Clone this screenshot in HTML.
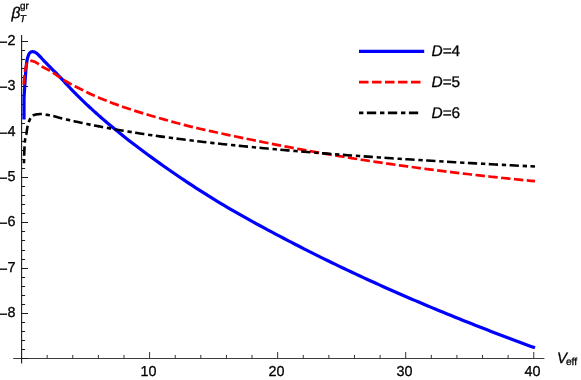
<!DOCTYPE html>
<html><head><meta charset="utf-8"><title>plot</title>
<style>
html,body{margin:0;padding:0;background:#fff;}
body{width:581px;height:380px;overflow:hidden;font-family:"Liberation Sans",sans-serif;}
svg{display:block;}
text{font-family:"Liberation Sans",sans-serif;fill:#000;stroke:#000;stroke-width:0.3px;text-rendering:geometricPrecision;}
.t{filter:blur(0.35px);}
</style></head>
<body>
<svg width="581" height="380" viewBox="0 0 581 380">
<rect width="581" height="380" fill="#fff"/>
<g stroke="#1a1a1a" stroke-width="1" fill="none" shape-rendering="auto">
<line x1="13.2" y1="358.5" x2="544.4" y2="358.5" stroke-width="1.1" stroke="#3c3c3c"/>
<line x1="21.6" y1="35.1" x2="21.6" y2="363.5" stroke-width="1.1"/>
<line x1="21.5" y1="358.5" x2="28.0" y2="358.5"/>
<line x1="21.5" y1="41.50" x2="28.0" y2="41.50"/>
<line x1="21.5" y1="50.50" x2="25.1" y2="50.50"/>
<line x1="21.5" y1="59.50" x2="25.1" y2="59.50"/>
<line x1="21.5" y1="68.50" x2="25.1" y2="68.50"/>
<line x1="21.5" y1="77.50" x2="25.1" y2="77.50"/>
<line x1="21.5" y1="86.50" x2="28.0" y2="86.50"/>
<line x1="21.5" y1="95.50" x2="25.1" y2="95.50"/>
<line x1="21.5" y1="104.50" x2="25.1" y2="104.50"/>
<line x1="21.5" y1="114.50" x2="25.1" y2="114.50"/>
<line x1="21.5" y1="123.50" x2="25.1" y2="123.50"/>
<line x1="21.5" y1="132.50" x2="28.0" y2="132.50"/>
<line x1="21.5" y1="141.50" x2="25.1" y2="141.50"/>
<line x1="21.5" y1="150.50" x2="25.1" y2="150.50"/>
<line x1="21.5" y1="159.50" x2="25.1" y2="159.50"/>
<line x1="21.5" y1="168.50" x2="25.1" y2="168.50"/>
<line x1="21.5" y1="177.50" x2="28.0" y2="177.50"/>
<line x1="21.5" y1="186.50" x2="25.1" y2="186.50"/>
<line x1="21.5" y1="195.50" x2="25.1" y2="195.50"/>
<line x1="21.5" y1="204.50" x2="25.1" y2="204.50"/>
<line x1="21.5" y1="213.50" x2="25.1" y2="213.50"/>
<line x1="21.5" y1="222.50" x2="28.0" y2="222.50"/>
<line x1="21.5" y1="231.50" x2="25.1" y2="231.50"/>
<line x1="21.5" y1="240.50" x2="25.1" y2="240.50"/>
<line x1="21.5" y1="250.50" x2="25.1" y2="250.50"/>
<line x1="21.5" y1="259.50" x2="25.1" y2="259.50"/>
<line x1="21.5" y1="268.50" x2="28.0" y2="268.50"/>
<line x1="21.5" y1="277.50" x2="25.1" y2="277.50"/>
<line x1="21.5" y1="286.50" x2="25.1" y2="286.50"/>
<line x1="21.5" y1="295.50" x2="25.1" y2="295.50"/>
<line x1="21.5" y1="304.50" x2="25.1" y2="304.50"/>
<line x1="21.5" y1="313.50" x2="28.0" y2="313.50"/>
<line x1="21.5" y1="322.50" x2="25.1" y2="322.50"/>
<line x1="21.5" y1="331.50" x2="25.1" y2="331.50"/>
<line x1="21.5" y1="340.50" x2="25.1" y2="340.50"/>
<line x1="21.5" y1="349.50" x2="25.1" y2="349.50"/>
<line x1="47.16" y1="358.5" x2="47.16" y2="354.9" stroke="#333"/>
<line x1="72.77" y1="358.5" x2="72.77" y2="354.9" stroke="#333"/>
<line x1="98.38" y1="358.5" x2="98.38" y2="354.9" stroke="#333"/>
<line x1="123.99" y1="358.5" x2="123.99" y2="354.9" stroke="#333"/>
<line x1="149.60" y1="358.5" x2="149.60" y2="352.0" stroke="#333"/>
<line x1="175.21" y1="358.5" x2="175.21" y2="354.9" stroke="#333"/>
<line x1="200.82" y1="358.5" x2="200.82" y2="354.9" stroke="#333"/>
<line x1="226.43" y1="358.5" x2="226.43" y2="354.9" stroke="#333"/>
<line x1="252.04" y1="358.5" x2="252.04" y2="354.9" stroke="#333"/>
<line x1="277.65" y1="358.5" x2="277.65" y2="352.0" stroke="#333"/>
<line x1="303.26" y1="358.5" x2="303.26" y2="354.9" stroke="#333"/>
<line x1="328.87" y1="358.5" x2="328.87" y2="354.9" stroke="#333"/>
<line x1="354.48" y1="358.5" x2="354.48" y2="354.9" stroke="#333"/>
<line x1="380.09" y1="358.5" x2="380.09" y2="354.9" stroke="#333"/>
<line x1="405.70" y1="358.5" x2="405.70" y2="352.0" stroke="#333"/>
<line x1="431.31" y1="358.5" x2="431.31" y2="354.9" stroke="#333"/>
<line x1="456.92" y1="358.5" x2="456.92" y2="354.9" stroke="#333"/>
<line x1="482.53" y1="358.5" x2="482.53" y2="354.9" stroke="#333"/>
<line x1="508.14" y1="358.5" x2="508.14" y2="354.9" stroke="#333"/>
<line x1="533.75" y1="358.5" x2="533.75" y2="352.0" stroke="#333"/>
</g>
<g fill="none" stroke-linejoin="round">
<path d="M24.00,119.50 L24.00,118.43 L24.00,117.36 L24.00,116.30 L24.00,115.23 L24.00,114.16 L24.00,113.09 L24.00,112.02 L24.00,110.96 L24.00,109.89 L24.00,108.82 L24.00,107.76 L24.00,106.69 L24.00,105.62 L24.00,104.55 L24.00,103.49 L24.00,102.42 L24.00,101.35 L24.00,100.29 L24.01,99.22 L24.03,98.15 L24.07,97.09 L24.12,96.02 L24.18,94.96 L24.25,93.89 L24.32,92.82 L24.39,91.76 L24.46,90.69 L24.52,89.63 L24.58,88.56 L24.65,87.50 L24.72,86.43 L24.79,85.37 L24.86,84.30 L24.93,83.24 L25.00,82.17 L25.08,81.11 L25.15,80.04 L25.23,78.98 L25.31,77.91 L25.38,76.85 L25.46,75.78 L25.53,74.72 L25.61,73.65 L25.69,72.59 L25.77,71.52 L25.85,70.46 L25.94,69.40 L26.04,68.33 L26.14,67.27 L26.25,66.21 L26.36,65.14 L26.47,64.08 L26.60,63.01 L26.75,61.96 L26.91,60.90 L27.09,59.86 L27.32,58.82 L27.61,57.79 L27.95,56.77 L28.31,55.77 L28.70,54.72 L29.15,53.70 L29.71,52.89 L30.53,52.24 L31.57,51.75 L32.61,51.67 L33.68,51.83 L34.70,52.11 L35.66,52.61 L36.55,53.20 L37.37,53.85 L38.14,54.58 L38.89,55.36 L39.62,56.16 L40.36,56.95 L41.10,57.72 L41.83,58.49 L42.56,59.28 L43.28,60.06 L44.00,60.85 L44.73,61.63 L45.47,62.40 L46.21,63.17 L46.95,63.94 L47.69,64.71 L48.43,65.47 L49.18,66.23 L49.93,66.99 L50.69,67.75 L51.44,68.50 L52.20,69.26 L52.96,70.01 L53.71,70.76 L54.47,71.51 L55.24,72.25 L56.00,73.00 L56.76,73.75 L57.51,74.51 L58.25,75.27 L58.99,76.04 L59.73,76.82 L60.46,77.59 L61.19,78.37 L61.92,79.15 L62.64,79.94 L63.37,80.72 L64.09,81.51 L64.81,82.30 L65.53,83.09 L66.25,83.87 L66.97,84.66 L67.70,85.44 L68.42,86.23 L69.15,87.00 L69.88,87.78 L70.62,88.55 L71.36,89.32 L72.10,90.09 L72.84,90.86 L73.58,91.63 L74.33,92.39 L75.07,93.16 L75.82,93.92 L76.57,94.68 L77.32,95.44 L78.08,96.19 L78.83,96.95 L79.59,97.70 L80.35,98.44 L81.12,99.19 L81.88,99.93 L82.65,100.67 L83.43,101.40 L84.20,102.14 L84.98,102.87 L85.76,103.60 L86.54,104.33 L87.31,105.06 L88.09,105.79 L88.87,106.52 L89.66,107.24 L90.44,107.97 L91.23,108.69 L92.01,109.41 L92.80,110.13 L93.59,110.85 L94.38,111.57 L95.18,112.28 L95.97,112.99 L96.77,113.70 L97.56,114.41 L98.36,115.12 L99.16,115.83 L99.96,116.53 L100.77,117.24 L101.57,117.94 L102.38,118.64 L103.18,119.34 L103.99,120.04 L107.98,123.44 L111.97,126.79 L115.96,130.08 L119.95,133.32 L123.94,136.50 L127.94,139.64 L131.93,142.74 L135.92,145.79 L139.91,148.79 L143.90,151.76 L147.89,154.69 L151.88,157.60 L155.87,160.50 L159.86,163.36 L163.85,166.19 L167.84,168.99 L171.83,171.76 L175.83,174.50 L179.82,177.21 L183.81,179.89 L187.80,182.55 L191.79,185.19 L195.78,187.80 L199.77,190.38 L203.76,192.93 L207.75,195.44 L211.74,197.90 L215.73,200.34 L219.72,202.76 L223.72,205.16 L227.71,207.53 L231.70,209.89 L235.69,212.19 L239.68,214.46 L243.67,216.70 L247.66,218.91 L251.65,221.11 L255.64,223.30 L259.63,225.48 L263.62,227.64 L267.61,229.79 L271.61,231.93 L275.60,234.04 L279.59,236.15 L283.58,238.24 L287.57,240.31 L291.56,242.38 L295.55,244.46 L299.54,246.52 L303.53,248.56 L307.52,250.59 L311.51,252.60 L315.50,254.60 L319.50,256.59 L323.49,258.57 L327.48,260.53 L331.47,262.47 L335.46,264.41 L339.45,266.33 L343.44,268.24 L347.43,270.13 L351.42,272.02 L355.41,273.89 L359.40,275.75 L363.39,277.60 L367.39,279.43 L371.38,281.26 L375.37,283.07 L379.36,284.88 L383.35,286.67 L387.34,288.45 L391.33,290.22 L395.32,291.98 L399.31,293.73 L403.30,295.47 L407.29,297.20 L411.28,298.92 L415.28,300.63 L419.27,302.33 L423.26,304.02 L427.25,305.70 L431.24,307.37 L435.23,309.03 L439.22,310.68 L443.21,312.33 L447.20,313.96 L451.19,315.59 L455.18,317.21 L459.17,318.82 L463.17,320.42 L467.16,322.01 L471.15,323.59 L475.14,325.17 L479.13,326.73 L483.12,328.29 L487.11,329.84 L491.10,331.39 L495.09,332.92 L499.08,334.45 L503.07,335.97 L507.06,337.48 L511.06,338.99 L515.05,340.48 L519.04,341.97 L523.03,343.45 L527.02,344.93 L531.01,346.40 L535.00,347.86" stroke="#0000ff" stroke-width="3.2" stroke-linecap="butt"/>
<path d="M23.70,85.30 L23.73,84.74 L23.77,84.18 L23.80,83.62 L23.84,83.06 L23.88,82.49 L23.92,81.93 L23.96,81.37 L24.01,80.81 L24.05,80.25 L24.10,79.69 L24.15,79.13 L24.20,78.57 L24.25,78.01 L24.30,77.45 L24.35,76.90 L24.41,76.34 L24.46,75.78 L24.52,75.22 L24.58,74.66 L24.64,74.10 L24.70,73.54 L24.77,72.98 L24.84,72.43 L24.92,71.87 L25.00,71.31 L25.08,70.76 L25.17,70.20 L25.26,69.64 L25.36,69.09 L25.47,68.54 L25.58,67.99 L25.70,67.44 L25.82,66.89 L25.96,66.34 L26.10,65.78 L26.25,65.22 L26.42,64.68 L26.61,64.15 L26.83,63.64 L27.07,63.17 L27.39,62.69 L27.78,62.23 L28.21,61.84 L28.65,61.58 L29.14,61.38 L29.68,61.21 L30.25,61.06 L30.83,60.96 L31.40,60.90 L31.95,60.92 L32.49,61.01 L33.03,61.17 L33.57,61.38 L34.10,61.61 L34.63,61.84 L35.14,62.06 L35.64,62.30 L36.14,62.56 L36.63,62.84 L37.11,63.13 L37.59,63.44 L38.07,63.75 L38.54,64.06 L39.00,64.37 L39.45,64.71 L39.89,65.06 L40.34,65.41 L40.79,65.75 L41.25,66.06 L41.72,66.36 L42.19,66.65 L42.68,66.93 L43.17,67.21 L43.66,67.48 L44.16,67.74 L44.66,68.00 L45.16,68.26 L45.66,68.51 L46.17,68.76 L46.67,69.02 L47.17,69.27 L47.68,69.53 L48.17,69.79 L48.67,70.05 L49.17,70.32 L49.65,70.60 L50.14,70.88 L50.62,71.17 L51.10,71.46 L51.58,71.76 L52.05,72.06 L52.52,72.36 L53.00,72.67 L53.47,72.98 L53.94,73.29 L54.40,73.60 L54.87,73.91 L55.34,74.23 L55.80,74.55 L56.26,74.87 L56.71,75.20 L57.17,75.53 L57.62,75.87 L58.08,76.20 L58.53,76.53 L58.99,76.86 L59.44,77.18 L59.91,77.50 L60.37,77.82 L60.84,78.12 L61.31,78.43 L61.78,78.73 L62.26,79.03 L62.73,79.33 L63.21,79.63 L63.69,79.93 L64.17,80.22 L64.65,80.52 L65.13,80.81 L65.61,81.10 L66.09,81.38 L66.58,81.67 L67.06,81.95 L67.55,82.24 L68.04,82.52 L68.52,82.80 L69.01,83.08 L69.50,83.36 L69.99,83.63 L70.48,83.91 L70.97,84.18 L71.47,84.44 L71.96,84.71 L72.46,84.97 L72.96,85.23 L73.45,85.49 L73.95,85.75 L74.45,86.01 L74.95,86.26 L75.45,86.52 L75.96,86.77 L76.46,87.02 L76.96,87.28 L77.46,87.53 L77.97,87.78 L78.47,88.03 L78.97,88.28 L79.48,88.53 L79.98,88.77 L80.49,89.02 L80.99,89.27 L81.49,89.52 L81.99,89.77 L82.50,90.03 L83.00,90.28 L83.50,90.54 L84.00,90.79 L84.50,91.05 L85.00,91.30 L88.00,92.80 L91.00,94.22 L94.00,95.57 L97.00,96.87 L100.00,98.14 L103.99,99.78 L107.98,101.37 L111.97,102.91 L115.96,104.39 L119.95,105.81 L123.94,107.20 L127.94,108.55 L131.93,109.86 L135.92,111.13 L139.91,112.38 L143.90,113.60 L147.89,114.80 L151.88,115.98 L155.87,117.13 L159.86,118.27 L163.85,119.40 L167.84,120.52 L171.83,121.62 L175.83,122.71 L179.82,123.77 L183.81,124.82 L187.80,125.84 L191.79,126.82 L195.78,127.78 L199.77,128.71 L203.76,129.62 L207.75,130.51 L211.74,131.39 L215.73,132.26 L219.72,133.12 L223.72,133.98 L227.71,134.84 L231.70,135.68 L235.69,136.51 L239.68,137.33 L243.67,138.15 L247.66,138.95 L251.65,139.77 L255.64,140.59 L259.63,141.41 L263.62,142.22 L267.61,143.03 L271.61,143.82 L275.60,144.61 L279.59,145.39 L283.58,146.15 L287.57,146.92 L291.56,147.67 L295.55,148.42 L299.54,149.16 L303.53,149.89 L307.52,150.61 L311.51,151.33 L315.50,152.03 L319.50,152.73 L323.49,153.43 L327.48,154.11 L331.47,154.79 L335.46,155.47 L339.45,156.13 L343.44,156.79 L347.43,157.44 L351.42,158.09 L355.41,158.72 L359.40,159.35 L363.39,159.98 L367.39,160.60 L371.38,161.21 L375.37,161.81 L379.36,162.41 L383.35,163.00 L387.34,163.59 L391.33,164.16 L395.32,164.74 L399.31,165.30 L403.30,165.86 L407.29,166.42 L411.28,166.97 L415.28,167.51 L419.27,168.04 L423.26,168.57 L427.25,169.10 L431.24,169.62 L435.23,170.13 L439.22,170.64 L443.21,171.14 L447.20,171.63 L451.19,172.12 L455.18,172.61 L459.17,173.09 L463.17,173.56 L467.16,174.03 L471.15,174.49 L475.14,174.95 L479.13,175.40 L483.12,175.85 L487.11,176.29 L491.10,176.73 L495.09,177.16 L499.08,177.59 L503.07,178.01 L507.06,178.42 L511.06,178.84 L515.05,179.24 L519.04,179.64 L523.03,180.04 L527.02,180.43 L531.01,180.82 L535.00,181.20" stroke="#ff0000" stroke-width="2.7" stroke-dasharray="9.42 3.46" stroke-dashoffset="-0.7" stroke-linecap="butt"/>
<path d="M24.00,163.20 L24.01,162.62 L24.02,162.04 L24.02,161.46 L24.04,160.87 L24.05,160.29 L24.06,159.71 L24.07,159.13 L24.09,158.55 L24.10,157.97 L24.12,157.39 L24.14,156.80 L24.15,156.22 L24.17,155.64 L24.19,155.06 L24.21,154.48 L24.23,153.90 L24.25,153.32 L24.27,152.73 L24.29,152.15 L24.31,151.57 L24.33,150.99 L24.36,150.40 L24.38,149.82 L24.41,149.24 L24.44,148.66 L24.47,148.07 L24.50,147.49 L24.53,146.91 L24.56,146.33 L24.60,145.75 L24.63,145.17 L24.67,144.59 L24.71,144.01 L24.75,143.43 L24.80,142.85 L24.85,142.27 L24.89,141.69 L24.94,141.12 L25.00,140.54 L25.05,139.97 L25.12,139.39 L25.22,138.82 L25.32,138.25 L25.45,137.68 L25.58,137.12 L25.72,136.55 L25.86,135.98 L25.99,135.41 L26.13,134.84 L26.25,134.27 L26.35,133.70 L26.46,133.13 L26.55,132.55 L26.64,131.98 L26.73,131.40 L26.81,130.82 L26.90,130.25 L26.98,129.67 L27.07,129.09 L27.16,128.52 L27.26,127.94 L27.36,127.37 L27.47,126.80 L27.58,126.24 L27.71,125.67 L27.84,125.11 L27.99,124.55 L28.15,123.98 L28.31,123.42 L28.49,122.86 L28.68,122.31 L28.88,121.76 L29.09,121.21 L29.31,120.68 L29.53,120.15 L29.77,119.63 L30.04,119.11 L30.33,118.59 L30.65,118.09 L30.98,117.61 L31.33,117.16 L31.71,116.71 L32.12,116.27 L32.56,115.85 L33.02,115.50 L33.50,115.26 L34.02,115.06 L34.56,114.88 L35.13,114.73 L35.71,114.59 L36.30,114.48 L36.89,114.38 L37.47,114.30 L38.05,114.24 L38.63,114.18 L39.21,114.12 L39.79,114.07 L40.37,114.03 L40.95,114.01 L41.53,114.00 L42.11,114.02 L42.69,114.07 L43.26,114.14 L43.84,114.23 L44.41,114.34 L44.99,114.45 L45.56,114.57 L46.13,114.68 L46.71,114.78 L47.28,114.88 L47.86,114.98 L48.43,115.07 L49.00,115.17 L49.58,115.27 L50.15,115.37 L50.72,115.48 L51.29,115.59 L51.86,115.70 L52.43,115.82 L53.00,115.94 L53.56,116.08 L54.12,116.22 L54.69,116.38 L55.24,116.53 L55.80,116.70 L56.36,116.86 L56.92,117.03 L57.48,117.20 L58.03,117.37 L58.59,117.53 L59.15,117.69 L59.71,117.85 L60.28,117.99 L60.84,118.13 L61.41,118.27 L61.97,118.40 L62.54,118.54 L63.10,118.67 L63.67,118.81 L64.23,118.95 L64.80,119.08 L65.37,119.21 L65.93,119.35 L66.50,119.48 L67.06,119.62 L67.63,119.75 L68.20,119.88 L68.76,120.01 L69.33,120.14 L69.90,120.27 L70.46,120.40 L71.03,120.53 L71.60,120.66 L72.16,120.79 L72.73,120.92 L73.30,121.05 L73.86,121.18 L74.43,121.30 L75.00,121.43 L78.00,122.09 L81.00,122.74 L84.00,123.38 L87.00,124.01 L90.00,124.62 L93.00,125.23 L96.00,125.82 L99.00,126.40 L100.00,126.59 L103.99,127.35 L107.98,128.08 L111.97,128.80 L115.96,129.51 L119.95,130.20 L123.94,130.87 L127.94,131.53 L131.93,132.18 L135.92,132.81 L139.91,133.43 L143.90,134.04 L147.89,134.64 L151.88,135.22 L155.87,135.79 L159.86,136.36 L163.85,136.91 L167.84,137.46 L171.83,137.99 L175.83,138.51 L179.82,139.03 L183.81,139.54 L187.80,140.04 L191.79,140.53 L195.78,141.01 L199.77,141.48 L203.76,141.95 L207.75,142.41 L211.74,142.87 L215.73,143.31 L219.72,143.75 L223.72,144.19 L227.71,144.61 L231.70,145.04 L235.69,145.45 L239.68,145.86 L243.67,146.27 L247.66,146.66 L251.65,147.06 L255.64,147.45 L259.63,147.83 L263.62,148.21 L267.61,148.58 L271.61,148.95 L275.60,149.31 L279.59,149.67 L283.58,150.03 L287.57,150.38 L291.56,150.72 L295.55,151.07 L299.54,151.41 L303.53,151.74 L307.52,152.07 L311.51,152.40 L315.50,152.72 L319.50,153.04 L323.49,153.36 L327.48,153.67 L331.47,153.98 L335.46,154.29 L339.45,154.59 L343.44,154.89 L347.43,155.19 L351.42,155.48 L355.41,155.77 L359.40,156.06 L363.39,156.35 L367.39,156.63 L371.38,156.91 L375.37,157.18 L379.36,157.46 L383.35,157.73 L387.34,158.00 L391.33,158.27 L395.32,158.53 L399.31,158.79 L403.30,159.05 L407.29,159.31 L411.28,159.56 L415.28,159.81 L419.27,160.06 L423.26,160.31 L427.25,160.56 L431.24,160.80 L435.23,161.04 L439.22,161.28 L443.21,161.52 L447.20,161.75 L451.19,161.99 L455.18,162.22 L459.17,162.45 L463.17,162.68 L467.16,162.90 L471.15,163.13 L475.14,163.35 L479.13,163.57 L483.12,163.79 L487.11,164.01 L491.10,164.22 L495.09,164.44 L499.08,164.65 L503.07,164.86 L507.06,165.07 L511.06,165.28 L515.05,165.48 L519.04,165.69 L523.03,165.89 L527.02,166.09 L531.01,166.29 L535.00,166.49" stroke="#000" stroke-width="2.6" stroke-dasharray="4.35 3.45 9.3 3.79" stroke-dashoffset="0.3" stroke-linecap="butt"/>
</g>
<g class="t">
<text x="15.6" y="45.20" text-anchor="end" font-size="14.4"><tspan dy="1.4">−</tspan><tspan dy="-1.4">2</tspan></text>
<text x="15.6" y="90.20" text-anchor="end" font-size="14.4"><tspan dy="1.4">−</tspan><tspan dy="-1.4">3</tspan></text>
<text x="15.6" y="136.20" text-anchor="end" font-size="14.4"><tspan dy="1.4">−</tspan><tspan dy="-1.4">4</tspan></text>
<text x="15.6" y="181.20" text-anchor="end" font-size="14.4"><tspan dy="1.4">−</tspan><tspan dy="-1.4">5</tspan></text>
<text x="15.6" y="226.20" text-anchor="end" font-size="14.4"><tspan dy="1.4">−</tspan><tspan dy="-1.4">6</tspan></text>
<text x="15.6" y="272.20" text-anchor="end" font-size="14.4"><tspan dy="1.4">−</tspan><tspan dy="-1.4">7</tspan></text>
<text x="15.6" y="317.20" text-anchor="end" font-size="14.4"><tspan dy="1.4">−</tspan><tspan dy="-1.4">8</tspan></text>
<text x="148.45" y="375.65" text-anchor="middle" font-size="14.4">10</text>
<text x="276.45" y="375.65" text-anchor="middle" font-size="14.4">20</text>
<text x="404.45" y="375.65" text-anchor="middle" font-size="14.4">30</text>
<text x="532.45" y="375.65" text-anchor="middle" font-size="14.4">40</text>
<!-- axis titles -->
<text x="11.5" y="17.85" font-size="15.7" font-style="italic">β</text>
<text x="20.0" y="9.0" font-size="9.9">gr</text>
<text x="19.8" y="22.0" font-size="10" font-style="italic">T</text>
<text x="557.0" y="362.7" font-size="14.9" font-style="italic">V</text>
<text x="565.9" y="365" font-size="10.3">eff</text>
<!-- legend labels -->
<g font-size="15.4">
<text x="431.5" y="55.7"><tspan font-style="italic">D</tspan>=4</text>
<text x="431.5" y="86.5"><tspan font-style="italic">D</tspan>=5</text>
<text x="431.5" y="117.5"><tspan font-style="italic">D</tspan>=6</text>
</g>
</g>
<!-- legend lines -->
<g fill="none">
<line x1="359" y1="51.4" x2="424.2" y2="51.4" stroke="#0000ff" stroke-width="3.2"/>
<line x1="359" y1="82.2" x2="420.5" y2="82.2" stroke="#ff0000" stroke-width="2.7" stroke-dasharray="9.5 3.5"/>
<line x1="359" y1="112.9" x2="418.3" y2="112.9" stroke="#000" stroke-width="2.6" stroke-dasharray="4.4 3.5 9.3 3.8"/>
</g>
</svg>
</body></html>
